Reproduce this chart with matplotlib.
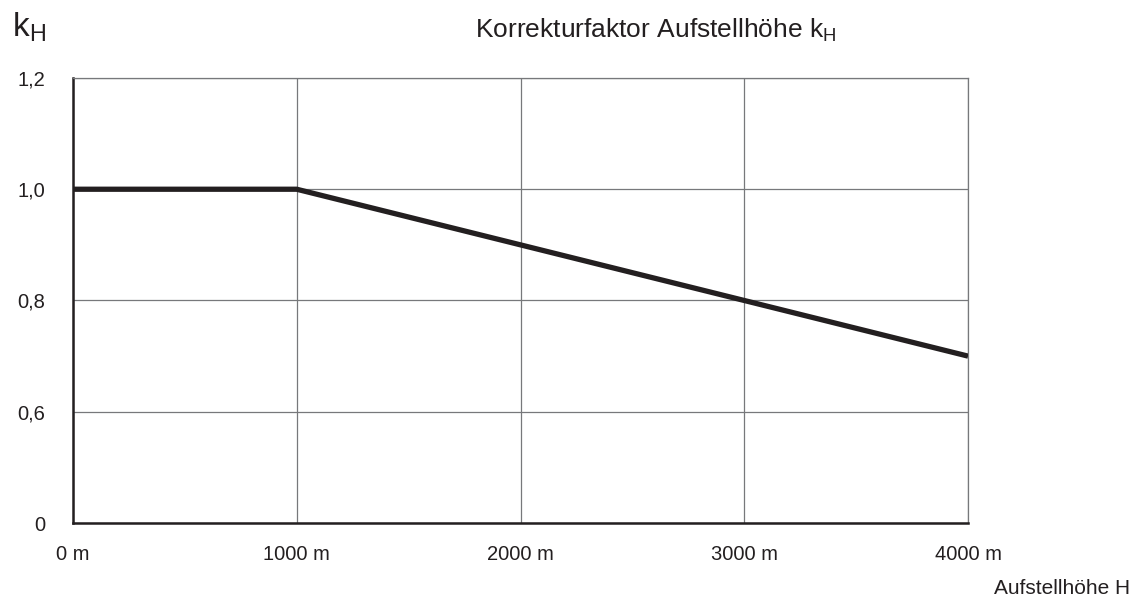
import matplotlib
matplotlib.use("Agg")
import matplotlib.pyplot as plt

plt.rcParams["font.family"] = "Liberation Sans"
plt.rcParams["mathtext.fontset"] = "custom"
plt.rcParams["mathtext.rm"] = "Liberation Sans"
plt.rcParams["mathtext.it"] = "Liberation Sans"

# altitude correction factor k_H over installation height H
hoehe_m = [0, 1000, 4000]
k_h = [1.0, 1.0, 0.7]

x_ticks = [0, 1000, 2000, 3000, 4000]
x_labels = ["0 m", "1000 m", "2000 m", "3000 m", "4000 m"]
# bottom gridline is drawn as "0" (broken axis), the rest is linear
y_ticks = [0.4, 0.6, 0.8, 1.0, 1.2]
y_labels = ["0", "0,6", "0,8", "1,0", "1,2"]

fig = plt.figure(figsize=(11.35, 5.98), dpi=100)
ax = fig.add_axes([0.0643, 0.1254, 0.7886, 0.7442])

ax.plot(hoehe_m, k_h, color="#231f20", lw=3.8, solid_capstyle="butt", zorder=3)

ax.set_xlim(0, 4000)
ax.set_ylim(0.4, 1.2)
ax.set_xticks(x_ticks)
ax.set_xticklabels(x_labels)
ax.set_yticks(y_ticks)
ax.set_yticklabels(y_labels)
ax.tick_params(length=0, labelsize=14.5, colors="#231f20")
ax.tick_params(axis="y", pad=20)
ax.tick_params(axis="x", pad=16)
ax.grid(True, color="#77787b", lw=0.9)

for side in ("left", "bottom"):
    ax.spines[side].set_linewidth(1.8)
    ax.spines[side].set_color("#231f20")
for side in ("top", "right"):
    ax.spines[side].set_linewidth(0.9)
    ax.spines[side].set_color("#77787b")

fig.text(0.011, 0.938, r"k$_\mathrm{H}$", fontsize=24, color="#231f20")
fig.text(0.578, 0.936, r"Korrekturfaktor Aufstellhöhe k$_\mathrm{H}$",
         fontsize=19, ha="center", color="#231f20")
fig.text(0.996, 0.007, "Aufstellhöhe H", fontsize=15, ha="right", color="#231f20")

fig.savefig("out.png", dpi=100)
